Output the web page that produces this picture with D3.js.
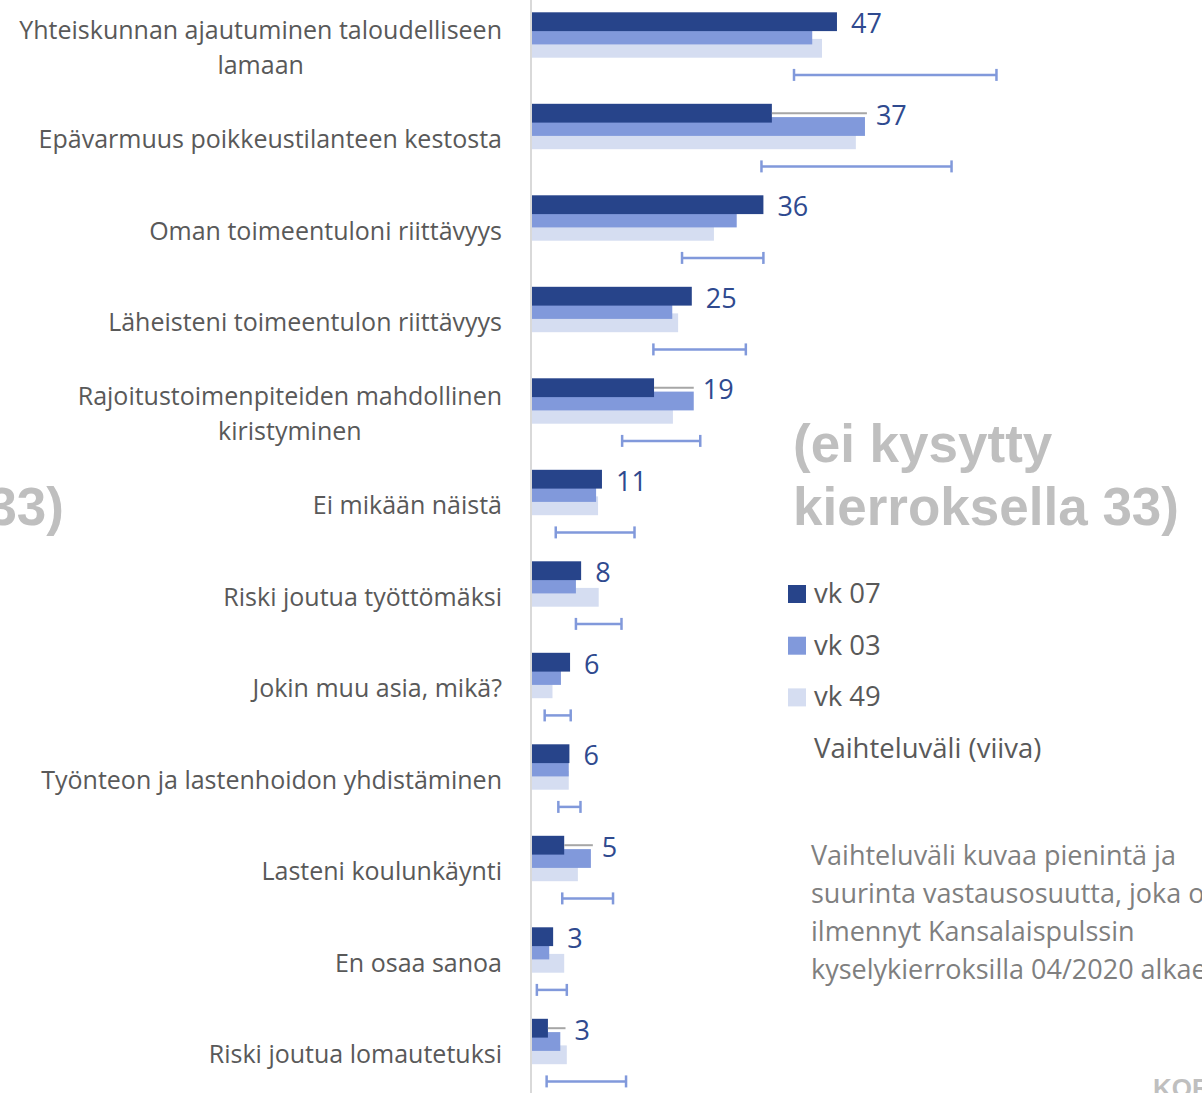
<!DOCTYPE html>
<html>
<head>
<meta charset="utf-8">
<script src="https://cdn.jsdelivr.net/npm/d3@7"></script>
<style>
  html, body { margin: 0; padding: 0; background: #fff; overflow: hidden; }
  svg { display: block; font-family: "Open Sans", "Noto Sans", sans-serif; }
</style>
</head>
<body>
<div id="chart"></div>
<script>
// kategoriat (rivitetty kuten alkuperäisessä)
const categories = [
  ['Yhteiskunnan ajautuminen taloudelliseen', 'lamaan'],
  ['Epävarmuus poikkeustilanteen kestosta'],
  ['Oman toimeentuloni riittävyys'],
  ['Läheisteni toimeentulon riittävyys'],
  ['Rajoitustoimenpiteiden mahdollinen', 'kiristyminen'],
  ['Ei mikään näistä'],
  ['Riski joutua työttömäksi'],
  ['Jokin muu asia, mikä?'],
  ['Työnteon ja lastenhoidon yhdistäminen'],
  ['Lasteni koulunkäynti'],
  ['En osaa sanoa'],
  ['Riski joutua lomautetuksi']
];

const vk07 = [47.0, 37.0, 35.7, 24.7, 18.9, 10.9, 7.7, 6.0, 5.9, 5.1, 3.4, 2.6];
const vk03 = [43.2, 51.3, 31.6, 21.7, 25.0, 10.0, 6.9, 4.6, 5.8, 9.2, 2.8, 4.5];
const vk49 = [44.7, 49.9, 28.1, 22.6, 21.8, 10.3, 10.4, 3.3, 5.8, 7.2, 5.1, 5.5];
// vaihteluväli (pienin – suurin osuus)
const rangeMin = [40.4, 35.4, 23.2, 18.8, 14.0, 3.8, 6.9, 2.1, 4.2, 4.8, 0.9, 2.4];
const rangeMax = [71.5, 64.6, 35.7, 33.0, 26.0, 15.9, 13.9, 6.1, 7.6, 12.6, 5.5, 14.6];
// harmaa viiva vk 07 -palkin jatkeena (vain osassa riveistä)
const grayLine = [null, 51.6, null, null, 25.0, null, null, null, null, 9.5, null, 5.3];

const legendItems = ['vk 07', 'vk 03', 'vk 49'];
const noteLines = [
  'Vaihteluväli kuvaa pienintä ja',
  'suurinta vastausosuutta, joka on',
  'ilmennyt Kansalaispulssin',
  'kyselykierroksilla 04/2020 alkaen'
];

const W = 1202, H = 1093;
const colors = { vk07: '#27448a', vk03: '#8199db', vk49: '#d5ddf1' };

const svg = d3.select('#chart').append('svg')
  .attr('width', W).attr('height', H)
  .attr('viewBox', `0 0 ${W} ${H}`);

const x = d3.scaleLinear().domain([0, 100]).range([531, 531 + 651]);
const y = d3.scaleBand().domain(d3.range(categories.length)).range([2, 1100]).paddingInner(0);

const barH = 18.8;
const off = { vk07: 10.3, vk03: 23.6, vk49: 36.9, range: 72.9 };

// pystyakseli
svg.append('line')
  .attr('x1', x(0)).attr('x2', x(0)).attr('y1', 0).attr('y2', H)
  .attr('stroke', '#d9d9d9').attr('stroke-width', 2);

const rows = d3.range(categories.length);

// palkit: vaalein ensin, tummin päällimmäisenä
[['vk49', vk49], ['vk03', vk03], ['vk07', vk07]].forEach(([key, vals]) => {
  svg.append('g').attr('class', 'bars-' + key)
    .selectAll('rect').data(rows).join('rect')
    .attr('x', x(0) + 1)
    .attr('y', i => y(i) + off[key])
    .attr('width', i => x(vals[i]) - x(0) - 1)
    .attr('height', barH)
    .attr('fill', colors[key]);
});

// harmaa viiva
svg.append('g').selectAll('line').data(rows.filter(i => grayLine[i] != null)).join('line')
  .attr('x1', i => x(vk07[i])).attr('x2', i => x(grayLine[i]))
  .attr('y1', i => y(i) + off.vk07 + barH / 2)
  .attr('y2', i => y(i) + off.vk07 + barH / 2)
  .attr('stroke', '#a6a6a6').attr('stroke-width', 2);

// vaihteluväli
const rg = svg.append('g').attr('stroke', '#8199db').attr('stroke-width', 2.5);
rows.forEach(i => {
  const yy = y(i) + off.range;
  rg.append('line').attr('x1', x(rangeMin[i])).attr('x2', x(rangeMax[i])).attr('y1', yy).attr('y2', yy);
  [rangeMin[i], rangeMax[i]].forEach(v => {
    rg.append('line').attr('x1', x(v)).attr('x2', x(v)).attr('y1', yy - 6).attr('y2', yy + 6);
  });
});

// arvot
svg.append('g').selectAll('text').data(rows).join('text')
  .attr('x', i => Math.max(x(vk07[i]) + 14, grayLine[i] != null ? x(grayLine[i]) + 9 : 0))
  .attr('y', i => y(i) + off.vk07 + 21)
  .attr('font-size', 27).attr('fill', '#2f4a8f')
  .text(i => d3.format('.0f')(vk07[i]));

// kategoriat
const catG = svg.append('g').attr('fill', '#595959').attr('font-size', 25);
rows.forEach(i => {
  const lines = categories[i];
  const cy = y(i) + y.bandwidth() / 2;
  const g = catG.append('g');
  const texts = lines.map((t, j) => g.append('text')
    .attr('y', cy + (j - (lines.length - 1) / 2) * 35)
    .attr('dy', '0.36em')
    .attr('text-anchor', 'middle')
    .text(t));
  const maxW = d3.max(texts, t => t.node().getComputedTextLength());
  texts.forEach(t => t.attr('x', 502 - maxW / 2));
});

// "ei kysytty" -tekstit
const big = svg.append('g').attr('fill', '#bfbfbf')
  .attr('font-family', '"Liberation Sans", Arial, sans-serif')
  .attr('font-weight', 'bold').attr('font-size', 53);
big.append('text').attr('x', 793).attr('y', 462).text('(ei kysytty');
big.append('text').attr('x', 793).attr('y', 525).text('kierroksella 33)');
big.append('text').attr('x', 64).attr('y', 525).attr('text-anchor', 'end').text('kierroksella 33)');

// selite
const leg = svg.append('g').attr('font-size', 27.5).attr('fill', '#595959');
legendItems.forEach((name, i) => {
  const ty = 585 + i * 51.7;
  leg.append('rect').attr('x', 788).attr('y', ty).attr('width', 18).attr('height', 18)
    .attr('fill', colors[['vk07', 'vk03', 'vk49'][i]]);
  leg.append('text').attr('x', 814).attr('y', ty + 18).text(name);
});
leg.append('text').attr('x', 814).attr('y', 758).text('Vaihteluväli (viiva)');

// huomautus
const note = svg.append('g').attr('font-size', 27).attr('fill', '#7f7f7f');
noteLines.forEach((t, i) => {
  note.append('text').attr('x', 811).attr('y', 865 + i * 38).text(t);
});

// logo-teksti oikeassa alakulmassa (rajautuu)
svg.append('text').attr('x', 1153).attr('y', 1097)
  .attr('font-family', '"Liberation Sans", Arial, sans-serif')
  .attr('font-weight', 'bold').attr('font-size', 26).attr('fill', '#bfbfbf')
  .text('KOR');
</script>
</body>
</html>
